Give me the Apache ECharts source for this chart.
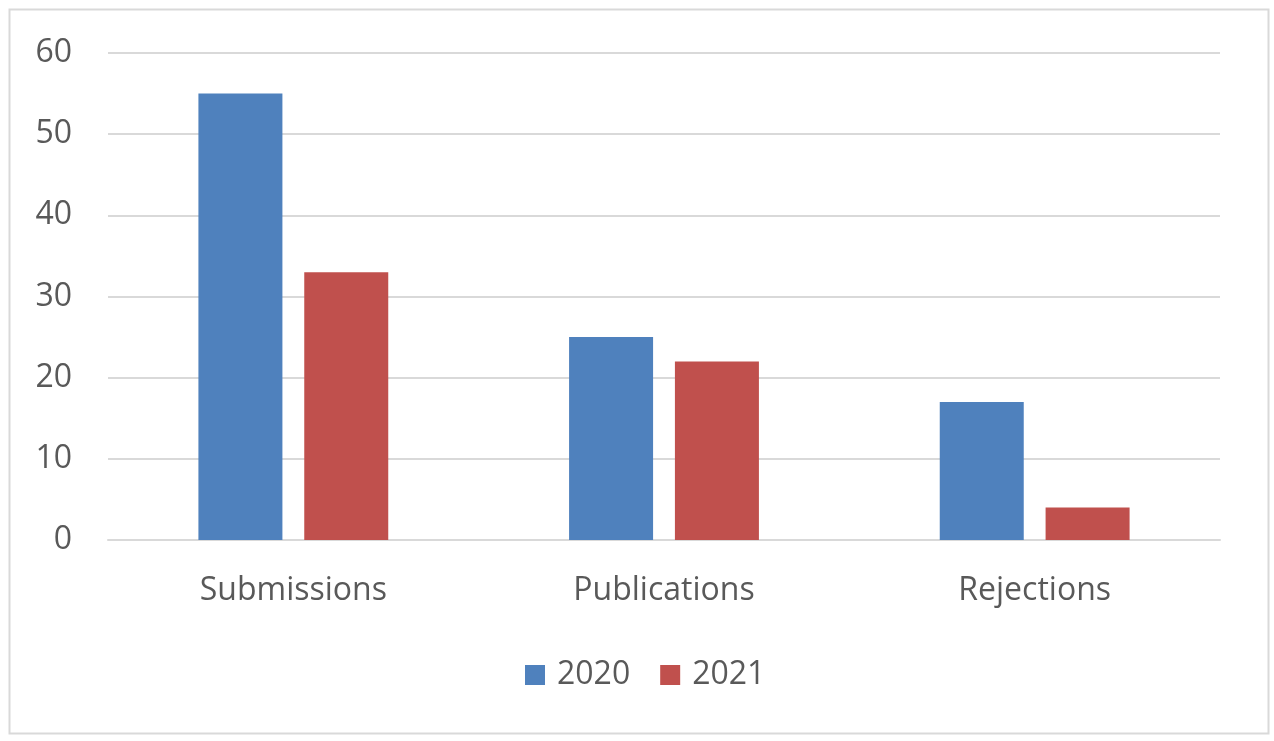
<!DOCTYPE html>
<html><head><meta charset="utf-8">
<script src="https://cdn.jsdelivr.net/npm/echarts@6/dist/echarts.min.js"></script>
<style>html,body{margin:0;padding:0;background:#fff}#c{width:1274px;height:741px}</style>
</head><body><div id="c"></div>
<script>
const categories = ['Submissions', 'Publications', 'Rejections'];
const series2020 = [55, 25, 17];
const series2021 = [33, 22, 4];
const seriesNames = ['2020', '2021'];

const chart = echarts.init(document.getElementById('c'));
const txt = '#595959';
const font = 'Open Sans';
chart.setOption({
  animation: false,
  backgroundColor: '#fff',
  graphic: [{
    type: 'rect', left: 7, top: 7,
    shape: { width: 1259, height: 724 },
    style: { fill: 'none', stroke: '#d9d9d9', lineWidth: 2 }
  }],
  grid: { left: 108, right: 54, top: 53, bottom: 201 },
  legend: {
    top: 654, left: 520,
    itemWidth: 20, itemHeight: 20, itemGap: 30,
    icon: 'rect',
    textStyle: { fontSize: 32, color: txt, fontFamily: font, padding: [0, 0, 0, 7] },
    data: seriesNames
  },
  xAxis: {
    type: 'category', data: categories,
    axisLine: { lineStyle: { color: '#d9d9d9', width: 2 } },
    axisTick: { show: false },
    axisLabel: { fontSize: 32, color: txt, fontFamily: font, margin: 35 }
  },
  yAxis: {
    type: 'value', min: 0, max: 60, interval: 10,
    axisLine: { show: false }, axisTick: { show: false },
    splitLine: { lineStyle: { color: '#d9d9d9', width: 2 } },
    axisLabel: { fontSize: 32, color: txt, fontFamily: font, margin: 36 }
  },
  series: [
    { name: seriesNames[0], type: 'bar', data: series2020, barWidth: 84, barGap: '26%', itemStyle: { color: '#4f81bd' } },
    { name: seriesNames[1], type: 'bar', data: series2021, barWidth: 84, itemStyle: { color: '#c0504d' } }
  ]
});
</script></body></html>
